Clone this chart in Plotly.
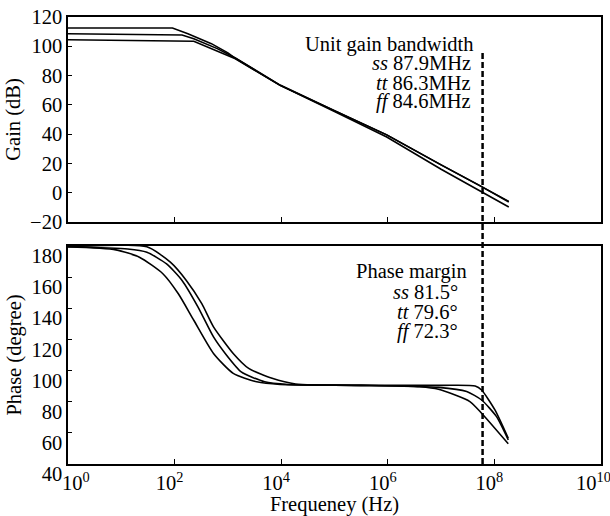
import numpy as np
import plotly.graph_objects as go

# ---------------- data ----------------
# frequencies given as log10(Hz) exponents
gain_ss_logf = [0, 1.96, 2.25, 2.69, 3.0, 3.14, 3.98, 5.0, 5.98, 7.0, 7.72, 8.27]
gain_ss_db = [112.5, 112.5, 108.6, 101.8, 95.5, 91.8, 73.3, 56.0, 39.5, 19.0, 5.0, -5.9]
gain_tt_logf = [0, 2.14, 2.36, 2.80, 3.14, 3.98, 5.0, 5.98, 7.0, 7.72, 8.27]
gain_tt_db = [108.6, 107.7, 105.2, 98.4, 92.0, 73.5, 56.0, 39.5, 19.0, 5.0, -6.3]
gain_ff_logf = [0, 2.36, 3.14, 3.98, 5.0, 5.98, 7.0, 7.72, 8.27]
gain_ff_db = [104.5, 103.4, 91.5, 73.3, 55.5, 38.0, 16.0, 1.6, -9.8]

phase_ss_logf = [0, 1.48, 1.92, 2.22, 2.51, 2.73, 3.10, 3.39, 3.83, 4.27, 5.5, 7.0, 7.64, 7.76, 8.01, 8.26]
phase_ss_deg = [179.5, 179.5, 169.6, 157.9, 143.0, 128.1, 111.0, 101.4, 95.0, 91.4, 90.5, 90.5, 90.1, 87.5, 74.7, 56.5]
phase_tt_logf = [0, 1.12, 1.48, 1.85, 2.14, 2.44, 2.73, 2.95, 3.25, 3.69, 4.13, 5.5, 6.95, 7.48, 7.76, 8.04, 8.26]
phase_tt_deg = [179.5, 178.1, 176.0, 168.5, 157.9, 140.8, 121.6, 111.0, 99.2, 92.8, 91.1, 90.5, 89.2, 86.5, 81.1, 70.4, 55.4]
phase_ff_logf = [0, 0.90, 1.34, 1.78, 2.07, 2.36, 2.73, 3.10, 3.54, 3.98, 5.5, 6.6, 6.95, 7.54, 7.76, 8.26]
phase_ff_deg = [179.5, 177.5, 172.8, 162.2, 149.3, 132.3, 111.0, 98.2, 92.8, 91.1, 90.5, 89.6, 88.0, 80.1, 72.6, 53.0]

marker_freq_hz = 6.0e7  # dashed vertical marker

x_tickvals = [1, 1e2, 1e4, 1e6, 1e8, 1e10]
NB = "\u00a0"
x_ticktext = [NB * 5 + "10<sup>0</sup>", "10<sup>2</sup>", "10<sup>4</sup>",
              "10<sup>6</sup>", "10<sup>8</sup>", "10<sup>10</sup>" + NB]
gain_ticks = [120, 100, 80, 60, 40, 20, 0, -20]
phase_ticks = [180, 160, 140, 120, 100, 80, 60, 40]

top_text = ["Unit gain bandwidth", "<i>ss</i> 87.9MHz", "<i>tt</i> 86.3MHz", "<i>ff</i> 84.6MHz"]
bot_text = ["Phase margin", "<i>ss</i> 81.5°", "<i>tt</i> 79.6°", "<i>ff</i> 72.3°"]

# ---------------- figure ----------------
FONT = "Liberation Serif"
FS = 20.5
W, H = 610, 516
ml, mr, mt, mb = 68, 9, 17, 52
ph = H - mt - mb
pw = W - ml - mr


def py(pix):  # pixel y -> paper
    return (H - mb - pix) / ph


def px(pix):
    return (pix - ml) / pw


fig = go.Figure()
line = dict(color="black", width=1.6)
for lf, v in [(gain_ss_logf, gain_ss_db), (gain_tt_logf, gain_tt_db), (gain_ff_logf, gain_ff_db)]:
    fig.add_trace(go.Scatter(x=10 ** np.array(lf), y=v, mode="lines", line=line,
                             xaxis="x", yaxis="y", showlegend=False))
for lf, v in [(phase_ss_logf, phase_ss_deg), (phase_tt_logf, phase_tt_deg), (phase_ff_logf, phase_ff_deg)]:
    fig.add_trace(go.Scatter(x=10 ** np.array(lf), y=v, mode="lines",
                             line=dict(color="black", width=1.6, shape="spline", smoothing=0.6),
                             xaxis="x2", yaxis="y2", showlegend=False))

axcommon = dict(showline=True, mirror=True, linecolor="black", linewidth=1.5,
                showgrid=False, zeroline=False, ticks="inside", tickcolor="black",
                ticklabeloverflow="allow", automargin=False,
                tickfont=dict(family=FONT, size=FS, color="black"))

fig.update_layout(
    width=W, height=H,
    margin=dict(l=ml, r=mr, t=mt, b=mb, autoexpand=False),
    paper_bgcolor="white", plot_bgcolor="white",
    font=dict(family=FONT, size=FS, color="black"),
    xaxis=dict(type="log", range=[0, 10], domain=[0, 1], anchor="y",
               tickvals=x_tickvals[1:-1], showticklabels=False, ticklen=5, **axcommon),
    yaxis=dict(range=[-20, 120], domain=[py(222), 1], anchor="x",
               tickvals=gain_ticks, ticklen=4,
               title=dict(text="Gain (dB)", standoff=4, font=dict(family=FONT, size=FS)),
               **axcommon),
    xaxis2=dict(type="log", range=[0, 10], domain=[0, 1], anchor="y2",
                tickvals=x_tickvals, ticktext=x_ticktext, ticklen=5, ticklabelshift=-5,
                title=dict(text="Frequeney (Hz)", standoff=0, font=dict(family=FONT, size=FS)),
                **axcommon),
    yaxis2=dict(range=[40, 180], domain=[0, py(246)], anchor="x2",
                tickvals=phase_ticks, ticklen=4, ticklabelshift=10,
                title=dict(text="Phase (degree)", standoff=4, font=dict(family=FONT, size=FS)),
                **axcommon),
)

fig.add_shape(type="line", xref="x", yref="paper",
              x0=marker_freq_hz, x1=marker_freq_hz, y0=0, y1=py(52),
              line=dict(color="black", width=2.5, dash="6px,3px"))

top_y = [44, 63.3, 82.7, 101.7]
top_x = [476, 473, 473, 473]
for t, yy, xx in zip(top_text, top_y, top_x):
    fig.add_annotation(text=t, xref="paper", yref="paper", x=px(xx), y=py(yy),
                       xanchor="right", yanchor="middle", showarrow=False,
                       font=dict(family=FONT, size=FS, color="black"))
bot_y = [271.7, 291.7, 311.7, 331.7]
bot_x = [469, 460, 460, 460]
for t, yy, xx in zip(bot_text, bot_y, bot_x):
    fig.add_annotation(text=t, xref="paper", yref="paper", x=px(xx), y=py(yy),
                       xanchor="right", yanchor="middle", showarrow=False,
                       font=dict(family=FONT, size=FS, color="black"))

fig.write_html("out.html")
